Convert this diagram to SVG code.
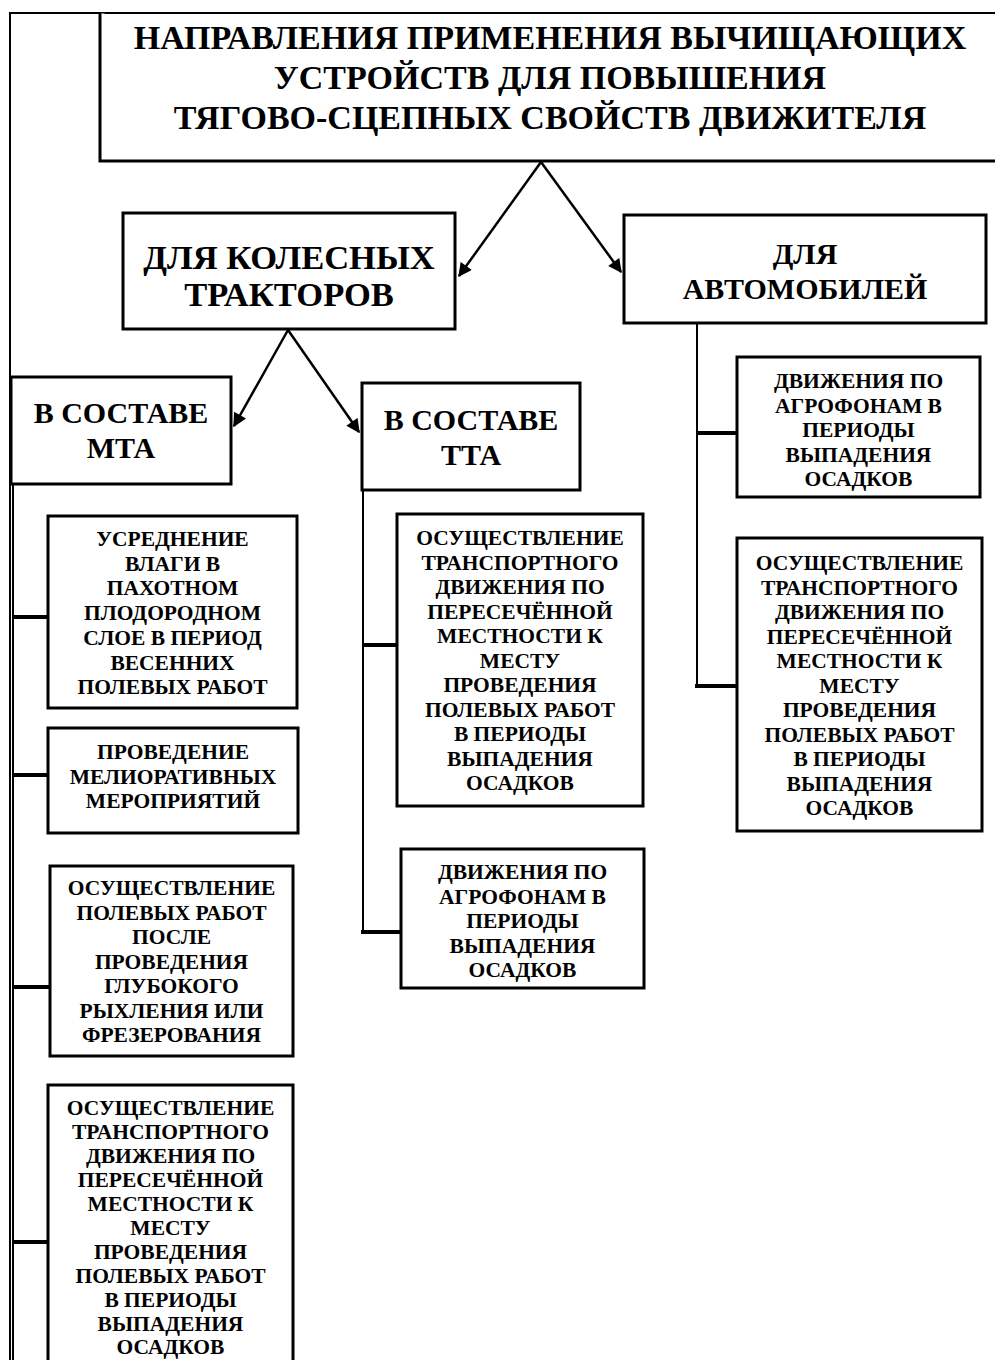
<svg xmlns="http://www.w3.org/2000/svg" width="995" height="1360" viewBox="0 0 995 1360">
<style>
.box{fill:#fff;stroke:#000;stroke-width:3}
.t{font-family:"Liberation Serif","Times New Roman",serif;font-weight:bold;text-anchor:middle;fill:#000}
.big{font-size:34px}
.mid{font-size:34.5px}
.m30{font-size:30px}
.s{font-size:21.5px}
.ln{fill:none;stroke:#000;stroke-width:2}
.tk{fill:none;stroke:#000;stroke-width:4}
.ar{fill:none;stroke:#000;stroke-width:2.5;marker-end:url(#ah)}
</style>
<defs>
<marker id="ah" viewBox="0 0 10 10" refX="9" refY="5" markerWidth="6" markerHeight="5.5" orient="auto" markerUnits="strokeWidth">
<path d="M0,0 L10,5 L0,10 z" fill="#000"/>
</marker>
</defs>
<rect width="995" height="1360" fill="#fff"/>

<g id="connectors">
<path class="ln" d="M10,1360 V13 H995"/>
<path class="ar" d="M541,162 L459,276"/>
<path class="ar" d="M541,162 L621,272"/>
<path class="ar" d="M288,330 L234,426"/>
<path class="ar" d="M288,330 L359,432"/>
<path class="ln" d="M13,484 V1360"/>
<path class="tk" d="M13,617 H48"/>
<path class="tk" d="M13,775 H48"/>
<path class="tk" d="M13,987 H50"/>
<path class="tk" d="M13,1242 H48"/>
<path class="ln" d="M363,490 V932"/>
<path class="tk" d="M363,645 H397"/>
<path class="tk" d="M361,932 H401"/>
<path class="ln" d="M697,323 V686"/>
<path class="tk" d="M697,433 H737"/>
<path class="tk" d="M695,686 H737"/>
</g>

<g id="title">
<path class="box" d="M100,13 V161 H997"/>
<text class="t big" x="550" y="49">НАПРАВЛЕНИЯ ПРИМЕНЕНИЯ ВЫЧИЩАЮЩИХ</text>
<text class="t big" x="550" y="89">УСТРОЙСТВ ДЛЯ ПОВЫШЕНИЯ</text>
<text class="t big" x="550" y="129">ТЯГОВО-СЦЕПНЫХ СВОЙСТВ ДВИЖИТЕЛЯ</text>
</g>

<g id="tractors">
<rect class="box" x="123" y="213" width="332" height="116"/>
<text class="t mid" x="289" y="269">ДЛЯ КОЛЕСНЫХ</text>
<text class="t mid" x="289" y="306">ТРАКТОРОВ</text>
</g>

<g id="cars">
<rect class="box" x="624" y="215" width="362" height="108"/>
<text class="t m30" x="805" y="264">ДЛЯ</text>
<text class="t m30" x="805" y="299">АВТОМОБИЛЕЙ</text>
</g>

<g id="mta">
<rect class="box" x="11" y="377" width="220" height="107"/>
<text class="t m30" x="121" y="423">В СОСТАВЕ</text>
<text class="t m30" x="121" y="458">МТА</text>
</g>

<g id="tta">
<rect class="box" x="362" y="383" width="218" height="107"/>
<text class="t m30" x="471" y="430">В СОСТАВЕ</text>
<text class="t m30" x="471" y="465">ТТА</text>
</g>

<g id="mta1">
<rect class="box" x="48" y="516" width="249" height="192"/>
<text class="t s" x="172.5" y="546">УСРЕДНЕНИЕ</text>
<text class="t s" x="172.5" y="570.7">ВЛАГИ В</text>
<text class="t s" x="172.5" y="595.4">ПАХОТНОМ</text>
<text class="t s" x="172.5" y="620.1">ПЛОДОРОДНОМ</text>
<text class="t s" x="172.5" y="644.8">СЛОЕ В ПЕРИОД</text>
<text class="t s" x="172.5" y="669.5">ВЕСЕННИХ</text>
<text class="t s" x="172.5" y="694.2">ПОЛЕВЫХ РАБОТ</text>
</g>

<g id="mta2">
<rect class="box" x="48" y="728" width="250" height="105"/>
<text class="t s" x="173" y="759">ПРОВЕДЕНИЕ</text>
<text class="t s" x="173" y="783.5">МЕЛИОРАТИВНЫХ</text>
<text class="t s" x="173" y="808">МЕРОПРИЯТИЙ</text>
</g>

<g id="mta3">
<rect class="box" x="50" y="866" width="243" height="190"/>
<text class="t s" x="171.5" y="895">ОСУЩЕСТВЛЕНИЕ</text>
<text class="t s" x="171.5" y="919.5">ПОЛЕВЫХ РАБОТ</text>
<text class="t s" x="171.5" y="944">ПОСЛЕ</text>
<text class="t s" x="171.5" y="968.5">ПРОВЕДЕНИЯ</text>
<text class="t s" x="171.5" y="993">ГЛУБОКОГО</text>
<text class="t s" x="171.5" y="1017.5">РЫХЛЕНИЯ ИЛИ</text>
<text class="t s" x="171.5" y="1042">ФРЕЗЕРОВАНИЯ</text>
</g>

<g id="mta4">
<rect class="box" x="48" y="1085" width="245" height="290"/>
<text class="t s" x="170.5" y="1115">ОСУЩЕСТВЛЕНИЕ</text>
<text class="t s" x="170.5" y="1139">ТРАНСПОРТНОГО</text>
<text class="t s" x="170.5" y="1163">ДВИЖЕНИЯ ПО</text>
<text class="t s" x="170.5" y="1187">ПЕРЕСЕЧЁННОЙ</text>
<text class="t s" x="170.5" y="1211">МЕСТНОСТИ К</text>
<text class="t s" x="170.5" y="1235">МЕСТУ</text>
<text class="t s" x="170.5" y="1259">ПРОВЕДЕНИЯ</text>
<text class="t s" x="170.5" y="1283">ПОЛЕВЫХ РАБОТ</text>
<text class="t s" x="170.5" y="1307">В ПЕРИОДЫ</text>
<text class="t s" x="170.5" y="1331">ВЫПАДЕНИЯ</text>
<text class="t s" x="170.5" y="1354">ОСАДКОВ</text>
</g>

<g id="tta1">
<rect class="box" x="397" y="514" width="246" height="292"/>
<text class="t s" x="520" y="545">ОСУЩЕСТВЛЕНИЕ</text>
<text class="t s" x="520" y="569.5">ТРАНСПОРТНОГО</text>
<text class="t s" x="520" y="594">ДВИЖЕНИЯ ПО</text>
<text class="t s" x="520" y="618.5">ПЕРЕСЕЧЁННОЙ</text>
<text class="t s" x="520" y="643">МЕСТНОСТИ К</text>
<text class="t s" x="520" y="667.5">МЕСТУ</text>
<text class="t s" x="520" y="692">ПРОВЕДЕНИЯ</text>
<text class="t s" x="520" y="716.5">ПОЛЕВЫХ РАБОТ</text>
<text class="t s" x="520" y="741">В ПЕРИОДЫ</text>
<text class="t s" x="520" y="765.5">ВЫПАДЕНИЯ</text>
<text class="t s" x="520" y="790">ОСАДКОВ</text>
</g>

<g id="tta2">
<rect class="box" x="401" y="849" width="243" height="139"/>
<text class="t s" x="522.5" y="879">ДВИЖЕНИЯ ПО</text>
<text class="t s" x="522.5" y="903.5">АГРОФОНАМ В</text>
<text class="t s" x="522.5" y="928">ПЕРИОДЫ</text>
<text class="t s" x="522.5" y="952.5">ВЫПАДЕНИЯ</text>
<text class="t s" x="522.5" y="977">ОСАДКОВ</text>
</g>

<g id="car1">
<rect class="box" x="737" y="357" width="243" height="140"/>
<text class="t s" x="858.5" y="388">ДВИЖЕНИЯ ПО</text>
<text class="t s" x="858.5" y="412.5">АГРОФОНАМ В</text>
<text class="t s" x="858.5" y="437">ПЕРИОДЫ</text>
<text class="t s" x="858.5" y="461.5">ВЫПАДЕНИЯ</text>
<text class="t s" x="858.5" y="486">ОСАДКОВ</text>
</g>

<g id="car2">
<rect class="box" x="737" y="538" width="245" height="293"/>
<text class="t s" x="859.5" y="570">ОСУЩЕСТВЛЕНИЕ</text>
<text class="t s" x="859.5" y="594.5">ТРАНСПОРТНОГО</text>
<text class="t s" x="859.5" y="619">ДВИЖЕНИЯ ПО</text>
<text class="t s" x="859.5" y="643.5">ПЕРЕСЕЧЁННОЙ</text>
<text class="t s" x="859.5" y="668">МЕСТНОСТИ К</text>
<text class="t s" x="859.5" y="692.5">МЕСТУ</text>
<text class="t s" x="859.5" y="717">ПРОВЕДЕНИЯ</text>
<text class="t s" x="859.5" y="741.5">ПОЛЕВЫХ РАБОТ</text>
<text class="t s" x="859.5" y="766">В ПЕРИОДЫ</text>
<text class="t s" x="859.5" y="790.5">ВЫПАДЕНИЯ</text>
<text class="t s" x="859.5" y="815">ОСАДКОВ</text>
</g>
</svg>
